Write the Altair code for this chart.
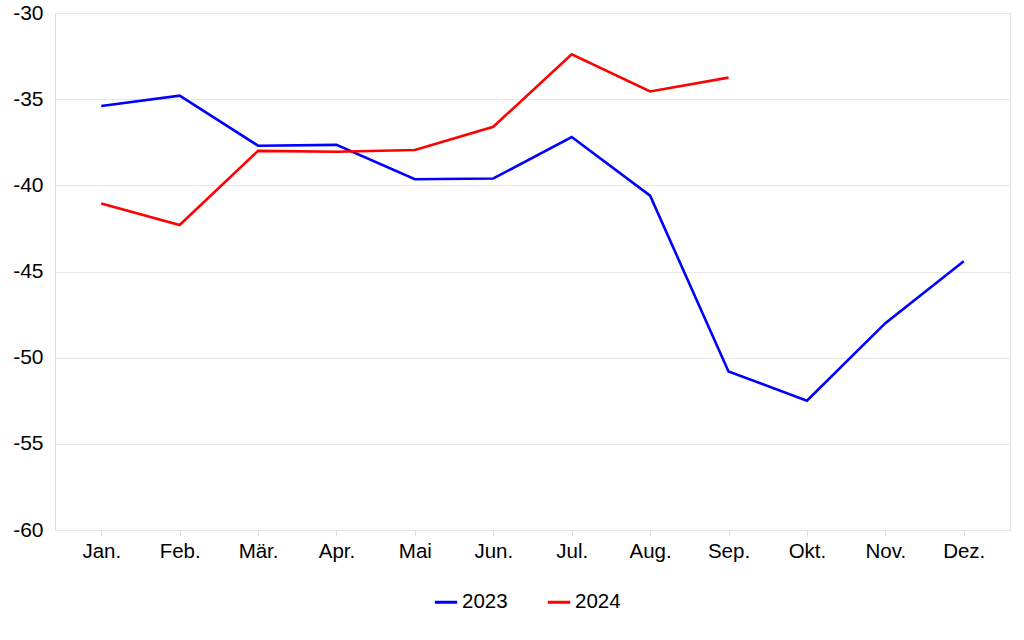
import altair as alt
import pandas as pd

months = ["Jan.", "Feb.", "Mär.", "Apr.", "Mai", "Jun.", "Jul.", "Aug.", "Sep.", "Okt.", "Nov.", "Dez."]
v2023 = [-35.4, -34.8, -37.7, -37.65, -39.65, -39.6, -37.2, -40.6, -50.8, -52.5, -48.0, -44.4]
v2024 = [-41.05, -42.3, -38.0, -38.05, -37.95, -36.6, -32.4, -34.55, -33.75]

rows = []
for m, v in zip(months, v2023):
    rows.append({"Monat": m, "Wert": v, "Jahr": "2023"})
for m, v in zip(months, v2024):
    rows.append({"Monat": m, "Wert": v, "Jahr": "2024"})
df = pd.DataFrame(rows)

font = "Liberation Sans"

chart = alt.Chart(df).mark_line(strokeWidth=2.6).encode(
    x=alt.X("Monat:N", sort=months, scale=alt.Scale(type="point", padding=0.59),
            axis=alt.Axis(title=None, labelAngle=0, labelFontSize=20.5, labelColor="#000000",
                          labelFont=font, domain=False, ticks=True, tickColor="#dddddd",
                          tickSize=6, labelPadding=5, grid=False)),
    y=alt.Y("Wert:Q", scale=alt.Scale(domain=[-60, -30], nice=False, zero=False),
            axis=alt.Axis(title=None, values=[-60, -55, -50, -45, -40, -35, -30],
                          labelExpr="replace(datum.label, '\u2212', '-')",
                          labelFontSize=21, labelColor="#000000", labelFont=font,
                          domain=False, ticks=False, labelPadding=12,
                          gridColor="#e6e6e6", gridWidth=1)),
    color=alt.Color("Jahr:N", scale=alt.Scale(domain=["2023", "2024"], range=["#0000ff", "#ff0000"]),
                    legend=alt.Legend(title=None, orient="none", legendX=378, legendY=576,
                                      direction="horizontal", symbolType="stroke",
                                      symbolStrokeWidth=3, symbolSize=500,
                                      labelFontSize=20.5, labelFont=font, labelColor="#000000",
                                      columnPadding=33, labelOffset=3)),
).properties(
    width=955, height=517,
    padding={"left": 55, "top": 13, "right": 14, "bottom": 110},
    autosize=alt.AutoSizeParams(type="none"),
).configure_view(stroke="#e6e6e6", strokeWidth=1.5).configure(background="white")

chart.save("out.html", embed_options={"renderer": "svg", "actions": False})
